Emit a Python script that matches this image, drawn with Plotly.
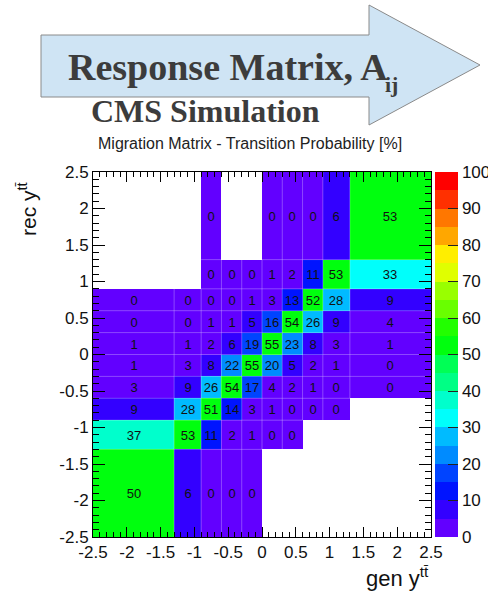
import plotly.graph_objects as go

W, H = 488, 592

# ---------------- data ----------------
gen_edges = [-2.5, -1.3, -0.9, -0.6, -0.3, 0.0, 0.3, 0.6, 0.9, 1.3, 2.5]
rec_edges = [-2.5, -1.3, -0.9, -0.6, -0.3, 0.0, 0.3, 0.6, 0.9, 1.3, 2.5]

N = None
# rows: rec bins (bottom -> top), columns: gen bins (left -> right)
prob = [
    [50, 6, 0, 0, 0, N, N, N, N, N],
    [37, 53, 11, 2, 1, 0, 0, N, N, N],
    [9, 28, 51, 14, 3, 1, 0, 0, 0, N],
    [3, 9, 26, 54, 17, 4, 2, 1, 0, 0],
    [1, 3, 8, 22, 55, 20, 5, 2, 1, 0],
    [1, 1, 2, 6, 19, 55, 23, 8, 3, 1],
    [0, 0, 1, 1, 5, 16, 54, 26, 9, 4],
    [0, 0, 0, 0, 1, 3, 13, 52, 28, 9],
    [N, N, 0, 0, 0, 1, 2, 11, 53, 33],
    [N, N, 0, N, N, 0, 0, 0, 6, 53],
]

axis_tick_vals = [-2.5, -2, -1.5, -1, -0.5, 0, 0.5, 1, 1.5, 2, 2.5]
axis_tick_text = ["-2.5", "-2", "-1.5", "-1", "-0.5", "0", "0.5", "1", "1.5", "2", "2.5"]
cbar_tick_vals = [0, 10, 20, 30, 40, 50, 60, 70, 80, 90, 100]

palette = ["#6200ff", "#3300ff", "#0014ff", "#0044ff", "#008bff",
           "#00bbff", "#00fffb", "#00ffcc", "#00ff85", "#00ff55",
           "#00ff0e", "#22ff00", "#69ff00", "#99ff00", "#e0ff00",
           "#ffee00", "#ffa700", "#ff7700", "#ff3000", "#ff0000"]

# ---------------- helpers ----------------
def fx(px):
    return px / W

def fy(py):
    return 1 - py / H

n = len(palette)
colorscale = []
for k, c in enumerate(palette):
    colorscale.append([k / n, c])
    colorscale.append([(k + 1) / n, c])

text = [["" if v is None else str(v) for v in row] for row in prob]

SANS = "Liberation Sans, Arial, Helvetica, sans-serif"
SERIF = "Liberation Serif, Times New Roman, serif"

fig = go.Figure()

fig.add_trace(go.Heatmap(
    x=gen_edges, y=rec_edges, z=prob,
    zmin=0, zmax=100, colorscale=colorscale,
    text=text, texttemplate="%{text}",
    textfont=dict(family=SANS, size=13, color="#111111"),
    hoverinfo="skip",
    colorbar=dict(
        x=fx(435), xanchor="left", xpad=0, ypad=0,
        y=fy(354.5), yanchor="middle", len=365 / H, lenmode="fraction",
        thickness=23, thicknessmode="pixels", outlinewidth=0,
        tickmode="array", tickvals=cbar_tick_vals,
        ticks="inside", ticklen=10, tickcolor="#222222", tickwidth=1,
        tickfont=dict(family=SANS, size=17, color="#111111"),
    ),
))

# faint cell borders between filled cells
xs, ys = [], []
nr, nc = len(prob), len(prob[0])
for r in range(nr):
    for c in range(nc):
        if prob[r][c] is None:
            continue
        if c + 1 < nc and prob[r][c + 1] is not None:
            xs += [gen_edges[c + 1], gen_edges[c + 1], None]
            ys += [rec_edges[r], rec_edges[r + 1], None]
        if r + 1 < nr and prob[r + 1][c] is not None:
            xs += [gen_edges[c], gen_edges[c + 1], None]
            ys += [rec_edges[r + 1], rec_edges[r + 1], None]
fig.add_trace(go.Scatter(x=xs, y=ys, mode="lines",
                         line=dict(color="rgba(255,255,255,0.28)", width=1),
                         hoverinfo="skip", showlegend=False))

axis_common = dict(
    range=[-2.5, 2.5], tickmode="array", tickvals=axis_tick_vals, ticktext=axis_tick_text,
    ticks="inside", tickcolor="black", tickwidth=1, mirror="ticks",
    showline=True, linecolor="black", linewidth=1,
    showgrid=False, zeroline=False, automargin=False,
    tickfont=dict(family=SANS, size=17, color="#111111"),
)

fig.update_layout(
    width=W, height=H,
    margin=dict(l=0, r=0, t=0, b=0, autoexpand=False),
    paper_bgcolor="white", plot_bgcolor="white",
    showlegend=False,
    xaxis=dict(domain=[fx(93), fx(431)], ticklen=10,
               minor=dict(dtick=0.1, tick0=-2.5, ticks="inside", ticklen=5,
                          tickcolor="black", showgrid=False),
               **axis_common),
    yaxis=dict(domain=[fy(537), fy(172)], ticklen=12,
               minor=dict(dtick=0.1, tick0=-2.5, ticks="inside", ticklen=6,
                          tickcolor="black", showgrid=False),
               **axis_common),
)

# arrow banner
arrow = [(41, 35), (369, 35), (369, 5), (480, 65), (369, 125), (369, 97), (41, 97)]
path = "M " + " L ".join(f"{fx(a)},{fy(b)}" for a, b in arrow) + " Z"
fig.add_shape(type="path", path=path, xref="paper", yref="paper",
              fillcolor="#cfe4f4", line=dict(color="#8a8a8a", width=1), layer="below")

fig.add_annotation(text="<b>Response Matrix, A</b>", x=fx(66), y=fy(67),
                   xref="paper", yref="paper", xanchor="left", yanchor="middle",
                   showarrow=False, font=dict(family=SERIF, size=38, color="#3c3c3c"))
fig.add_annotation(text="<b>ij</b>", x=fx(383), y=fy(84),
                   xref="paper", yref="paper", xanchor="left", yanchor="middle",
                   showarrow=False, font=dict(family=SERIF, size=22, color="#3c3c3c"))
fig.add_annotation(text="<b>CMS Simulation</b>", x=fx(89), y=fy(111),
                   xref="paper", yref="paper", xanchor="left", yanchor="middle",
                   showarrow=False, font=dict(family=SERIF, size=32, color="#3c3c3c"))
fig.add_annotation(text="Migration Matrix - Transition Probability [%]",
                   x=fx(250), y=fy(143), xref="paper", yref="paper",
                   xanchor="center", yanchor="middle", showarrow=False,
                   font=dict(family=SANS, size=16, color="#222222"))
fig.add_annotation(text="rec y<sup>tt̄</sup>", x=fx(27), y=fy(209),
                   xref="paper", yref="paper", xanchor="center", yanchor="middle",
                   textangle=-90, showarrow=False,
                   font=dict(family=SANS, size=21, color="#111111"))
fig.add_annotation(text="gen y<sup>tt̄</sup>", x=fx(431), y=fy(577),
                   xref="paper", yref="paper", xanchor="right", yanchor="middle",
                   showarrow=False, font=dict(family=SANS, size=22, color="#111111"))

fig.write_html("out.html")
